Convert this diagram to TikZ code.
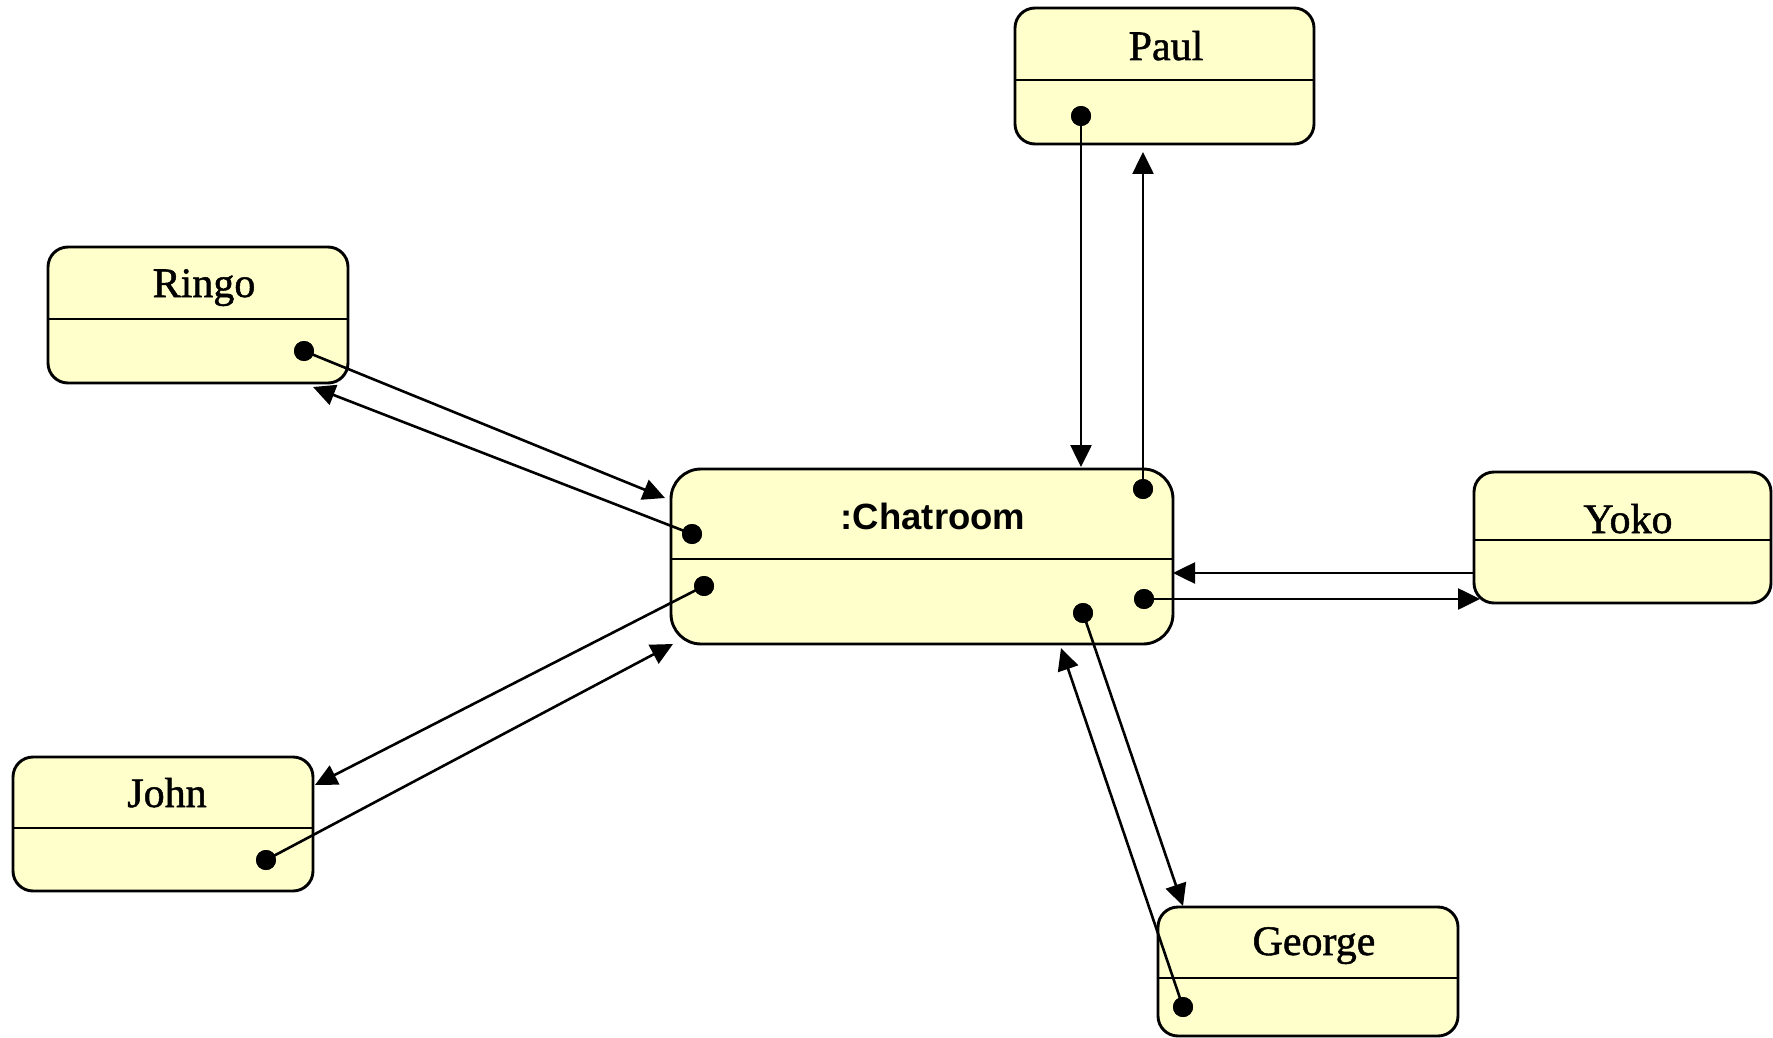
\documentclass[tikz,border=0pt]{standalone}
\usepackage{fontspec}
\setmainfont{Liberation Serif}[FakeBold=1.2]
\newfontfamily\labelsans{Liberation Sans}
\usetikzlibrary{arrows.meta}
\definecolor{boxfill}{RGB}{255,255,204}
\tikzset{
  objbox/.style={draw=black, fill=boxfill, line width=2.9pt, rounded corners=20pt},
  divider/.style={draw=black, line width=2.6pt},
  objname/.style={anchor=base, inner sep=0pt, font=\fontsize{42}{42}\selectfont},
  centername/.style={anchor=base, inner sep=0pt, font=\labelsans\bfseries\fontsize{36.5}{36.5}\selectfont},
  msg/.style={draw=black, line width=2.6pt, -{Triangle[length=22pt,width=21pt]}},
  port/.style={fill=black, circle, inner sep=0pt, minimum size=20pt}
}
\begin{document}
\begin{tikzpicture}[x=1pt, y=-1pt]
\useasboundingbox (0,0) rectangle (1773,1038);

% object boxes: outline, then the divider between name and body
\draw[objbox] (1015,8) rectangle (1314,144);
\draw[divider] (1015,80) -- (1314,80);
\node[objname] (paul) at (1166,60) {Paul};

\draw[objbox] (48,247) rectangle (348,383);
\draw[divider] (48,319) -- (348,319);
\node[objname] (ringo) at (204,297) {Ringo};

\draw[objbox, rounded corners=30pt] (671,469) rectangle (1173,644);
\draw[divider] (671,559) -- (1173,559);
\node[centername] (chat) at (933,529) {:Chatroom};

\draw[objbox] (1474,472) rectangle (1771,603);
\draw[divider] (1474,540) -- (1771,540);
\node[objname] (yoko) at (1628,533) {Yoko};

\draw[objbox] (13,757) rectangle (313,891);
\draw[divider] (13,828) -- (313,828);
\node[objname] (john) at (167,807) {John};

\draw[objbox] (1158,907) rectangle (1458,1036);
\draw[divider] (1158,978) -- (1458,978);
\node[objname] (george) at (1314,955) {George};

% ports of the objects
\node[port] (pPaul) at (1081,116) {};
\node[port] (pRingo) at (304,351) {};
\node[port] (pJohn) at (266,860) {};
\node[port] (pGeorge) at (1183,1007) {};
\node[port] (cRingo) at (692,534) {};
\node[port] (cJohn) at (704,586) {};
\node[port] (cPaul) at (1143,489) {};
\node[port] (cYoko) at (1144,599) {};
\node[port] (cGeorge) at (1083,613) {};

% arrow targets
\coordinate (tChatR) at (665,498);
\coordinate (tRingo) at (313,387);
\coordinate (tJohn) at (315,785);
\coordinate (tChatJ) at (673,644);
\coordinate (tChatP) at (1081,467);
\coordinate (tPaul) at (1143,152);
\coordinate (sYoko) at (1474,573);
\coordinate (tChatY) at (1173,573);
\coordinate (tYoko) at (1480,599);
\coordinate (tGeorge) at (1183,906);
\coordinate (tChatG) at (1061,648);

% messages
\draw[msg] (pRingo.center) -- (tChatR);
\draw[msg] (cRingo.center) -- (tRingo);
\draw[msg] (cJohn.center) -- (tJohn);
\draw[msg] (pJohn.center) -- (tChatJ);
\draw[msg] (pPaul.center) -- (tChatP);
\draw[msg] (cPaul.center) -- (tPaul);
\draw[msg] (sYoko) -- (tChatY);
\draw[msg] (cYoko.center) -- (tYoko);
\draw[msg] (cGeorge.center) -- (tGeorge);
\draw[msg] (pGeorge.center) -- (tChatG);

% redraw ports on top of the lines
\foreach \p in {pPaul,pRingo,pJohn,pGeorge,cRingo,cJohn,cPaul,cYoko,cGeorge}
  \fill (\p.center) circle (10pt);
\end{tikzpicture}
\end{document}
